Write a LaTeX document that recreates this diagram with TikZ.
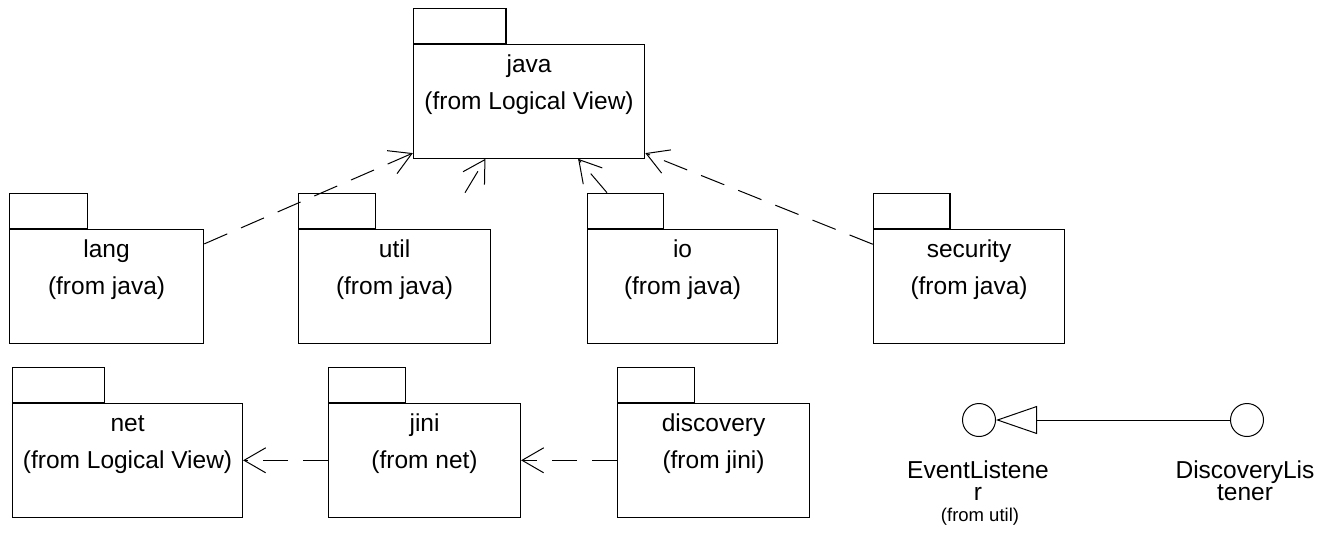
\documentclass[tikz,border=0pt]{standalone}
\usepackage{fontspec}
\setmainfont{Liberation Sans}
\usetikzlibrary{arrows.meta,fit}

\tikzset{
  pkgbody/.style={draw, line width=1.1pt, rectangle, inner sep=0pt, minimum height=113.5pt},
  pkgtab/.style={draw, line width=1.1pt, rectangle, inner sep=0pt, minimum height=35pt},
  pkglabel/.style={inner sep=0pt, anchor=base, font=\fontsize{24.5}{28}\selectfont},
  smalllabel/.style={inner sep=0pt, anchor=base, font=\fontsize{18.5}{20}\selectfont},
  dep/.style={line width=1pt, dash pattern=on 25pt off 15pt,
    -{Straight Barb[length=21.6pt,width=25pt]}},
  realize/.style={line width=1pt, -{Triangle[open,length=41pt,width=28pt]}},
  iface/.style={draw, circle, line width=1pt, minimum size=33pt, inner sep=0pt},
}

% UML package: name, x, y of body top-left, body width, name line, origin line
\newcommand\umlpkg[6]{%
  \node[pkgbody, minimum width=#4pt, anchor=north west] (#1) at (#2,#3) {};
  \node[pkgtab, minimum width=0.4*#4pt, anchor=south west] (#1-tab) at (#1.north west) {};
  \node[pkglabel] (#1-name) at ([yshift=-28pt]#1.north) {#5};
  \node[pkglabel] (#1-from) at ([yshift=-65pt]#1.north) {#6};
  \node[fit=(#1)(#1-tab), inner sep=0pt] (#1-box) {};
}

\begin{document}
\begin{tikzpicture}[x=1pt,y=-1pt]
  \useasboundingbox[fill=white] (0,0) rectangle (1331,547);

  % packages
  \umlpkg{java}{413}{44}{231}{java}{(from Logical View)}
  \umlpkg{lang}{9}{229}{194}{lang}{(from java)}
  \umlpkg{util}{298}{229}{192}{util}{(from java)}
  \umlpkg{io}{587}{229}{190}{io}{(from java)}
  \umlpkg{security}{873}{229}{191}{security}{(from java)}
  \umlpkg{net}{12}{403}{230}{net}{(from Logical View)}
  \umlpkg{jini}{328}{403}{192}{jini}{(from net)}
  \umlpkg{discovery}{617}{403}{192}{discovery}{(from jini)}

  % dependencies
  \draw[dep] (lang-box.14.7) -- (java-box.211);
  \draw[dep] (util-box.47.6) -- (java-box.240.9);
  \draw[dep] (io-box.135.9) -- (java-box.303.6);
  \draw[dep] (security-box.166.2) -- (java-box.329.7);
  \draw[dep] (jini.west) -- (net.east);
  \draw[dep] (discovery.west) -- (jini.east);

  % interfaces
  \node[iface] (evl) at (979,420) {};
  \node[iface] (dsl) at (1247,420) {};
  \draw[realize] (dsl) -- (evl);

  \node[pkglabel] (evl-a) at (978,478) {EventListene};
  \node[pkglabel] (evl-b) at (978,500) {r};
  \node[smalllabel] (evl-c) at (980,521) {(from util)};
  \node[pkglabel] (dsl-a) at (1245,478) {DiscoveryLis};
  \node[pkglabel] (dsl-b) at (1245,500) {tener};
\end{tikzpicture}
\end{document}
